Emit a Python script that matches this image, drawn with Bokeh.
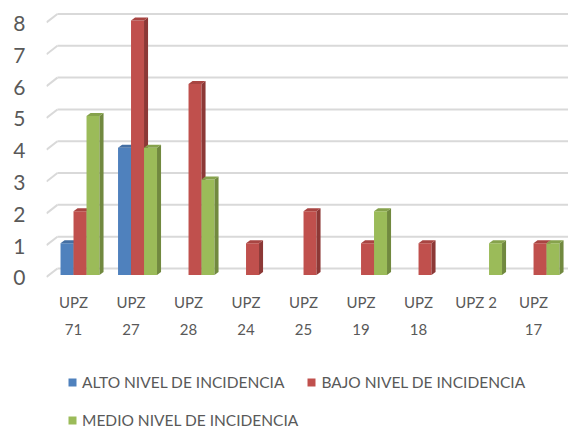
from bokeh.plotting import figure
from bokeh.models import Range1d, LinearAxis, FixedTicker, Legend, LegendItem, ColumnDataSource
from bokeh.embed import file_html
from bokeh.resources import INLINE

# ---------------- data ----------------
categories = ["UPZ 71", "UPZ 27", "UPZ 28", "UPZ 24", "UPZ 25",
              "UPZ 19", "UPZ 18", "UPZ 2", "UPZ 17"]
tick_labels = ["UPZ\n71", "UPZ\n27", "UPZ\n28", "UPZ\n24", "UPZ\n25",
               "UPZ\n19", "UPZ\n18", "UPZ 2", "UPZ\n17"]
alto = [1, 4, 0, 0, 0, 0, 0, 0, 0]
bajo = [2, 8, 6, 1, 2, 1, 1, 0, 1]
medio = [5, 4, 3, 0, 0, 2, 0, 1, 1]
series_names = ["ALTO NIVEL DE INCIDENCIA", "BAJO NIVEL DE INCIDENCIA",
                "MEDIO NIVEL DE INCIDENCIA"]
y_ticks = [0, 1, 2, 3, 4, 5, 6, 7, 8]

# ---------------- style ----------------
FONT = "Lato"
TXT = "#595959"
front_colors = ["#4F81BD", "#C0504D", "#9BBB59"]
side_colors = ["#385D8A", "#8C3836", "#71893F"]
top_colors = ["#446FA3", "#A84542", "#86A24C"]
BW = 0.226      # bar width (category units)
DX = 0.07       # depth offset x
DY = 0.094      # depth offset y
GRID_UP = 0.204
GRID_SLANT_LOW = 0.063
GRID_SLANT_W = 0.19
AXIS_Y = -0.173  # where the category labels hang

xr = Range1d(-0.583, 8.495)
yr = Range1d(-4.857, 8.314)

p = figure(width=568, height=429, x_range=xr, y_range=yr,
           output_backend="svg", toolbar_location=None,
           x_axis_location=None, y_axis_location=None,
           min_border_left=46, min_border_right=0,
           min_border_top=10, min_border_bottom=0)
p.outline_line_color = None
p.xgrid.visible = False
p.ygrid.visible = False
p.background_fill_color = "white"
p.border_fill_color = "white"

p.extra_y_ranges = {"ylab": Range1d(yr.start + DY, yr.end + DY)}
p.extra_x_ranges = {"xlab": Range1d(-0.470, 8.608)}

# gridlines (back wall + slanted floor edge)
gs = ColumnDataSource(dict(
    x0=[xr.start] * len(y_ticks),
    x1=[xr.start + GRID_SLANT_W] * len(y_ticks),
    x2=[xr.end] * len(y_ticks),
    ya=[t - GRID_SLANT_LOW for t in y_ticks],
    yb=[t + GRID_UP for t in y_ticks],
))
p.segment(x0="x0", y0="ya", x1="x1", y1="yb", source=gs,
          line_color="#D9D9D9", line_width=2)
p.segment(x0="x1", y0="yb", x1="x2", y1="yb", source=gs,
          line_color="#D9D9D9", line_width=2)

legend_items = []
for k, vals in enumerate([alto, bajo, medio]):
    off = (k - 1) * BW
    xs, tops = [], []
    for i, v in enumerate(vals):
        if v > 0:
            xs.append(i + off)
            tops.append(v)
    side_xs, side_ys, top_xs, top_ys = [], [], [], []
    for x, t in zip(xs, tops):
        l, r = x - BW / 2, x + BW / 2
        side_xs.append([r, r + DX, r + DX, r])
        side_ys.append([0, DY, t + DY, t])
        top_xs.append([l, l + DX, r + DX, r])
        top_ys.append([t, t + DY, t + DY, t])
    src = ColumnDataSource(dict(x=xs, top=tops))
    rb = p.vbar(x="x", top="top", bottom=0, width=BW, source=src,
                fill_color=front_colors[k], line_color=None)
    p.patches(side_xs, side_ys, fill_color=side_colors[k], line_color=None)
    p.patches(top_xs, top_ys, fill_color=top_colors[k], line_color=None)
    legend_items.append(LegendItem(label=series_names[k], renderers=[rb]))

# y axis (only the 0..8 ticks)
yax = LinearAxis(y_range_name="ylab", ticker=FixedTicker(ticks=y_ticks))
yax.axis_line_color = None
yax.major_tick_line_color = None
yax.minor_tick_line_color = None
yax.major_tick_in = 0
yax.major_tick_out = 0
yax.major_label_standoff = 21
yax.major_label_text_font = FONT
yax.major_label_text_font_size = "21px"
yax.major_label_text_color = TXT
p.add_layout(yax, "left")

# category labels axis, hung just under the floor
xax = LinearAxis(x_range_name="xlab", fixed_location=AXIS_Y,
                 ticker=FixedTicker(ticks=list(range(len(categories)))),
                 major_label_overrides={i: lab for i, lab in enumerate(tick_labels)})
xax.axis_line_color = None
xax.major_tick_line_color = None
xax.minor_tick_line_color = None
xax.major_tick_in = 0
xax.major_tick_out = 0
xax.major_label_standoff = 13
xax.major_label_text_font = FONT
xax.major_label_text_font_size = "15px"
xax.major_label_text_color = TXT
xax.major_label_text_line_height = 1.5
p.add_layout(xax, "below")


def make_legend(items, loc):
    lg = Legend(items=items, location=loc, orientation="horizontal")
    lg.border_line_color = None
    lg.background_fill_alpha = 0
    lg.padding = 0
    lg.margin = 0
    lg.spacing = 22
    lg.glyph_width = 10
    lg.glyph_height = 10
    lg.label_standoff = 5
    lg.label_height = 16
    lg.label_text_font = FONT
    lg.label_text_font_size = "15.5px"
    lg.label_text_color = TXT
    return lg


p.add_layout(make_legend(legend_items[:2], (21, 38)), "center")
p.add_layout(make_legend(legend_items[2:], (21, 0)), "center")

open("out.html", "w").write(file_html(p, INLINE))
